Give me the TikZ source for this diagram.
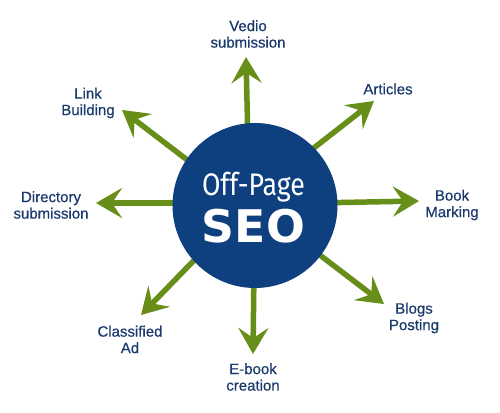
\documentclass[tikz,border=0pt]{standalone}
\usepackage{fontspec}
\setmainfont{Liberation Sans}
\newfontfamily\lblfont{Liberation Sans}[FakeBold=0.5]
\newfontfamily\offfont{Fira Sans}
\newfontfamily\seofont{DejaVu Sans}
\usetikzlibrary{arrows.meta}
\definecolor{seoblue}{RGB}{14,64,128}
\definecolor{seogreen}{RGB}{104,142,26}
\definecolor{labelblue}{RGB}{26,58,110}
\tikzset{
  spoke/.style={draw=seogreen, line width=5.5pt,
    -{Stealth[length=26pt,width=30pt,inset=10pt]}},
  lbl/.style={text=labelblue, align=center,
    font=\lblfont\fontsize{15}{16.5}\selectfont, inner sep=0pt},
  hub/.style={circle, fill=seoblue, minimum size=165pt, inner sep=0pt}
}
\begin{document}
\begin{tikzpicture}[x=1pt,y=-1pt]
\useasboundingbox (0,0) rectangle (500,412);
\fill[white] (0,0) rectangle (500,412);
% arrow starts (hidden under hub) and tips
\coordinate (sU) at (248,145);  \coordinate (tU) at (246,57);
\coordinate (sA) at (301,158);  \coordinate (tA) at (374,101);
\coordinate (sR) at (315,203);  \coordinate (tR) at (419,201);
\coordinate (sB) at (308,246);  \coordinate (tB) at (384,304);
\coordinate (sD) at (254,270);  \coordinate (tD) at (253,354);
\coordinate (sC) at (205,249);  \coordinate (tC) at (141,315);
\coordinate (sL) at (193,203);  \coordinate (tL) at (96,203);
\coordinate (sK) at (199,169);  \coordinate (tK) at (122,110);
\foreach \s/\t in {sU/tU,sA/tA,sR/tR,sB/tB,sD/tD,sC/tC,sL/tL,sK/tK}
  \draw[spoke] (\s) -- (\t);
\node[hub] (hub) at (255,205.5) {};
\node[anchor=base, inner sep=0pt, text=white] (off) at (253.5,195)
  {\resizebox*{103pt}{30pt}{\offfont Off-Page}};
\node[anchor=base, inner sep=0pt, text=white] (seo) at (253.5,242)
  {\resizebox*{103pt}{34pt}{\seofont\bfseries SEO}};
% labels
\node[lbl] (vedio) at (248,34) {Vedio\\submission};
\node[lbl] (art) at (388,89) {Articles};
\node[lbl] (link) at (88,103) {Link\\Building};
\node[lbl] (dir) at (51,205) {Directory\\submission};
\node[lbl] (book) at (452,205) {Book\\Marking};
\node[lbl] (ebook) at (253,377) {E-book\\creation};
\node[lbl] (class) at (130,339.5) {Classified\\Ad};
\node[lbl] (blogs) at (414,318) {Blogs\\Posting};
\end{tikzpicture}
\end{document}
